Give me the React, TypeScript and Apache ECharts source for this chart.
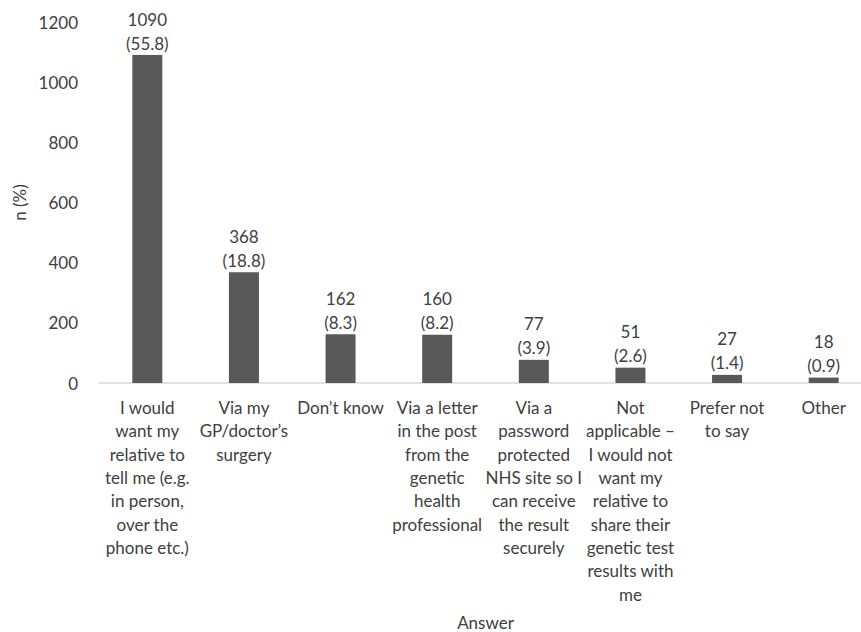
import React, { useEffect, useRef } from "react";
import * as echarts from "echarts";

const categories: string[] = [
  "I would\nwant my\nrelative to\ntell me (e.g.\nin person,\nover the\nphone etc.)",
  "Via my\nGP/doctor\u2019s\nsurgery",
  "Don\u2019t know",
  "Via a letter\nin the post\nfrom the\ngenetic\nhealth\nprofessional",
  "Via a\npassword\nprotected\nNHS site so I\ncan receive\nthe result\nsecurely",
  "Not\napplicable \u2013\nI would not\nwant my\nrelative to\nshare their\ngenetic test\nresults with\nme",
  "Prefer not\nto say",
  "Other",
];
const counts: number[] = [1090, 368, 162, 160, 77, 51, 27, 18];
const percents: string[] = ["55.8", "18.8", "8.3", "8.2", "3.9", "2.6", "1.4", "0.9"];
const yTicks = { min: 0, max: 1200, interval: 200 };

const FONT = "Lato";
const TEXT = "#404040";

export default function App() {
  const ref = useRef<HTMLDivElement>(null);
  useEffect(() => {
    if (!ref.current) return;
    const chart = echarts.init(ref.current, null, { renderer: "svg" });
    chart.setOption({
      animation: false,
      backgroundColor: "#ffffff",
      textStyle: { fontFamily: FONT, color: TEXT },
      grid: {
        left: 99,
        top: 22,
        width: 773,
        height: 361,
        containLabel: false,
        outerBoundsMode: "none",
      },
      xAxis: {
        type: "category",
        data: categories,
        name: "Answer",
        nameLocation: "middle",
        nameGap: 231,
        nameTextStyle: { fontFamily: FONT, fontSize: 17, color: TEXT },
        axisLine: { lineStyle: { color: "#d9d9d9", width: 1.5 } },
        axisTick: { show: false },
        axisLabel: {
          interval: 0,
          fontFamily: FONT,
          fontSize: 17,
          lineHeight: 23.3,
          color: TEXT,
          margin: 13,
          verticalAlign: "top",
        },
      },
      yAxis: {
        type: "value",
        min: yTicks.min,
        max: yTicks.max,
        interval: yTicks.interval,
        name: "n (%)",
        nameLocation: "middle",
        nameGap: 71,
        nameRotate: 90,
        nameTextStyle: { fontFamily: FONT, fontSize: 17, color: TEXT },
        splitLine: { show: false },
        axisLine: { show: false },
        axisTick: { show: false },
        axisLabel: {
          fontFamily: FONT,
          fontSize: 17,
          color: TEXT,
          margin: 21,
          formatter: (v: number) => String(v),
        },
      },
      series: [
        {
          type: "bar",
          data: counts,
          barWidth: 30,
          itemStyle: { color: "#595959" },
          label: {
            show: true,
            position: "top",
            distance: 0,
            fontFamily: FONT,
            fontSize: 17,
            lineHeight: 24,
            color: TEXT,
            formatter: (p: any) => `${counts[p.dataIndex]}\n(${percents[p.dataIndex]})`,
          },
        },
      ],
    });
    return () => chart.dispose();
  }, []);
  return <div ref={ref} style={{ width: 861, height: 632, position: "absolute", left: 0, top: 0 }} />;
}
